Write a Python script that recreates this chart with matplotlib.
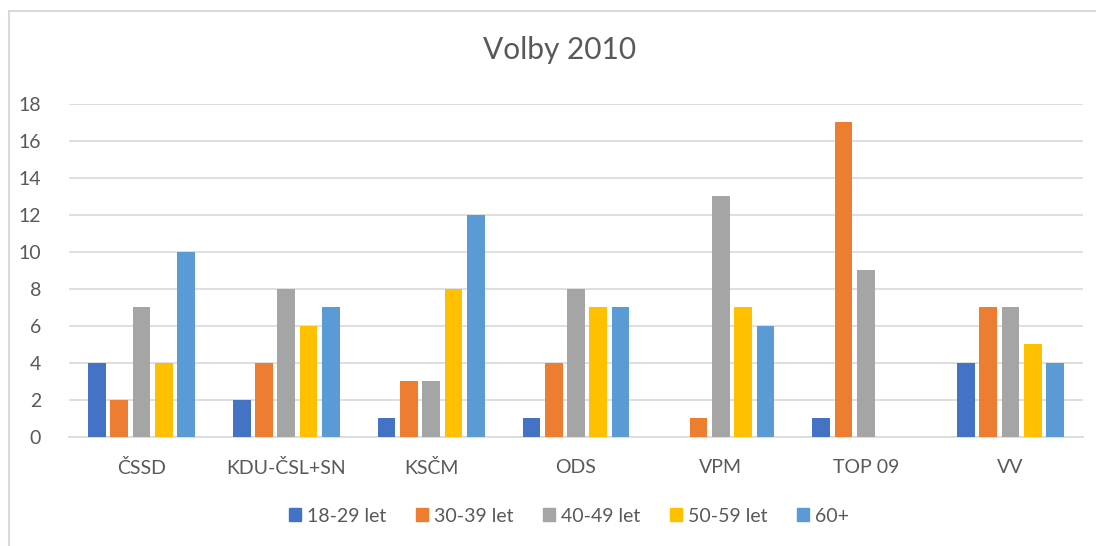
import matplotlib.pyplot as plt
import matplotlib.patches as mpatches
import numpy as np

plt.rcParams['font.family'] = ['Lato', 'DejaVu Sans']

parties = ["ČSSD", "KDU-ČSL+SN", "KSČM", "ODS", "VPM", "TOP 09", "VV"]
age_groups = ["18-29 let", "30-39 let", "40-49 let", "50-59 let", "60+"]
votes_18_29 = [4, 2, 1, 1, 0, 1, 4]
votes_30_39 = [2, 4, 3, 4, 1, 17, 7]
votes_40_49 = [7, 8, 3, 8, 13, 9, 7]
votes_50_59 = [4, 6, 8, 7, 7, 0, 5]
votes_60_plus = [10, 7, 12, 7, 6, 0, 4]
series = [votes_18_29, votes_30_39, votes_40_49, votes_50_59, votes_60_plus]
colors = ["#4472C4", "#ED7D31", "#A5A5A5", "#FFC000", "#5B9BD5"]

text_color = "#595959"
grid_color = "#D9D9D9"

fig = plt.figure(figsize=(10.96, 5.46), dpi=100)
W, H = 1096, 546

# chart frame (cut off at right/bottom like the screenshot)
fig.patches.append(mpatches.Rectangle((9 / W, -0.1), 1.2, 1 - 11 / H + 0.1,
                                      transform=fig.transFigure, fill=False,
                                      edgecolor=grid_color, linewidth=1.5))

ax = fig.add_axes([69 / W, 1 - 436.5 / H, (1083 - 69) / W, (436.5 - 104) / H])

x = np.arange(len(parties))
step = 0.154
bar_w = 0.122
for i, (vals, col, lab) in enumerate(zip(series, colors, age_groups)):
    ax.bar(x + (i - 2) * step, vals, width=bar_w, color=col, label=lab, zorder=3)

ax.set_xlim(-0.5, len(parties) - 0.5)
ax.set_ylim(0, 18)
ax.set_yticks(range(0, 19, 2))
ax.yaxis.grid(True, color=grid_color, linewidth=1.2, zorder=0)
ax.set_xticks(x)
ax.set_xticklabels(parties)
ax.tick_params(axis='both', length=0, labelsize=14, labelcolor=text_color)
ax.tick_params(axis='x', pad=16)
ax.tick_params(axis='y', pad=20)
for s in ["top", "right", "left"]:
    ax.spines[s].set_visible(False)
ax.spines["bottom"].set_color(grid_color)
ax.spines["bottom"].set_linewidth(1.2)

fig.text(560 / W, 1 - 50 / H, "Volby 2010", ha="center", va="center",
         fontsize=21.5, color=text_color)

handles = [mpatches.Patch(color=c, label=l) for c, l in zip(colors, age_groups)]
fig.legend(handles=handles, loc="center", bbox_to_anchor=(569 / W, 1 - 516 / H),
           ncol=5, frameon=False, fontsize=14, labelcolor=text_color,
           handlelength=0.6, handleheight=0.6, handletextpad=0.3,
           columnspacing=1.55)

fig.savefig("out.png", dpi=100)
